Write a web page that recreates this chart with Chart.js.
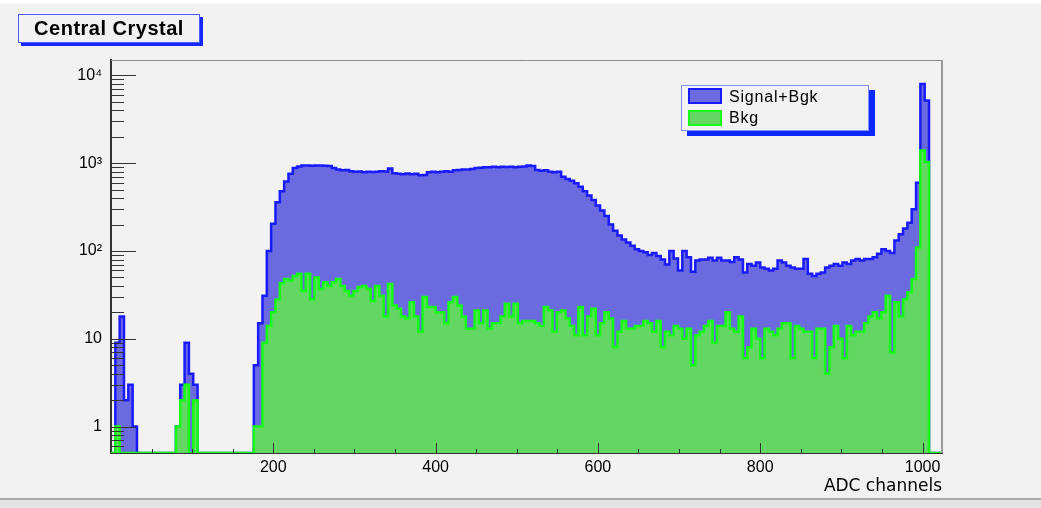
<!DOCTYPE html>
<html>
<head>
<meta charset="utf-8">
<script src="https://cdn.jsdelivr.net/npm/chart.js@4.4.1/dist/chart.umd.min.js"></script>
<style>
  body { margin: 0; background: #f2f2f2; }
  #wrap { position: relative; width: 1041px; height: 508px; }
  #title {
    position: absolute; left: 18px; top: 14px; width: 180px; height: 27px;
    border: 1px solid #4d5cff; box-shadow: 3px 3px 0 #1428ff;
    font: bold 20px "Liberation Sans", Arial, sans-serif; letter-spacing: 0.5px;
    line-height: 27px; text-align: center; color: #000;
  }
  #legend {
    position: absolute; left: 681px; top: 85px; width: 186px; height: 44px;
    border: 1px solid #8090ff; box-shadow: 6px 5px 0 #0a28ff; background: #f2f2f2;
    font: 16px "Liberation Sans", Arial, sans-serif; letter-spacing: 0.8px; color: #000;
  }
  .sw { position: absolute; left: 6px; width: 30px; height: 12px; }
  .lb { position: absolute; left: 47px; height: 18px; line-height: 18px; }
</style>
</head>
<body>
<div id="wrap">
  <canvas id="crystal" width="1041" height="508"></canvas>
  <div id="title">Central Crystal</div>
  <div id="legend">
    <div class="sw" style="top:2px; background:#6b6bdf; border:2px solid #1a1aff;"></div>
    <div class="lb" style="top:2px;">Signal+Bgk</div>
    <div class="sw" style="top:24px; background:#63d663; border:2px solid #19ff19;"></div>
    <div class="lb" style="top:23px;">Bkg</div>
  </div>
</div>
<script>
// 192 bins over 0..1024 ADC channels
const binWidth = 1024 / 192;
const yMin = 0.5;
const yMax = 15000;
const xTickValues = [200, 400, 600, 800, 1000];

const sigBgk = [
  0, 9, 18, 2, 3, 1,
  0, 0, 0, 0, 0, 0, 0, 0, 0,
  1, 3, 9, 4, 3,
  0, 0, 0, 0, 0, 0, 0, 0, 0, 0, 0, 0, 0,
  5, 15, 31, 100, 205, 360, 480, 620, 760, 880, 920, 940, 945, 935, 940,
  940, 935, 930, 880, 850, 830, 835, 810, 800, 805, 790, 800, 795, 800, 810, 805,
  870, 770, 760, 750, 765, 750, 760, 730, 735, 790, 800, 790, 800, 810, 800, 830,
  840, 850, 850, 860, 880, 890, 900, 900, 910, 900, 910, 905, 910, 900, 910, 920,
  940, 930, 840, 820, 830, 800, 790, 800, 700, 660, 630, 590, 540, 480, 430, 380,
  330, 290, 250, 200, 170, 150, 135, 125, 115, 105, 100, 97, 90, 95, 88, 80,
  70, 100, 82, 60, 100, 85, 58, 78, 80, 80, 84, 78, 84, 78, 78, 75,
  85, 80, 57, 71, 68, 74, 65, 63, 60, 63, 78, 74, 68, 65, 63, 63,
  81, 55, 52, 55, 57, 65, 68, 71, 68, 74, 71, 78, 81, 78, 81, 81,
  85, 93, 105, 100, 95, 132, 155, 180, 210, 300, 600, 8000, 5200, 0, 0, 0
];

const bkg = [
  0, 1, 0, 0, 0, 0,
  0, 0, 0, 0, 0, 0, 0, 0, 0,
  1, 2, 3, 0, 2,
  0, 0, 0, 0, 0, 0, 0, 0, 0, 0, 0, 0, 0,
  1, 1, 9, 14, 20, 28, 43, 48, 46, 52, 55, 35, 55, 28, 50,
  37, 44, 40, 44, 48, 40, 35, 31, 35, 39, 40, 37, 27, 40, 31, 18,
  42, 24, 22, 18, 17, 26, 18, 12, 30, 23, 23, 20, 20, 15, 26, 30,
  24, 18, 13, 13, 21, 15, 21, 13, 15, 15, 18, 25, 18, 25, 15, 16,
  16, 16, 15, 14, 23, 21, 12, 20, 21, 17, 14, 11, 23, 11, 18, 22,
  11, 15, 20, 17, 8, 12, 16, 13, 13, 14, 14, 16, 15, 12, 16, 8,
  12, 11, 14, 13, 10, 13, 5, 11, 12, 14, 16, 9, 14, 14, 20, 13,
  12, 18, 6, 8, 13, 10, 6, 13, 12, 11, 13, 15, 15, 6, 14, 13,
  12, 12, 6, 13, 13, 4, 8, 14, 10, 6, 14, 11, 12, 12, 15, 18,
  20, 17, 20, 31, 7, 26, 18, 28, 34, 48, 110, 1400, 1030, 0, 0, 0
];

const decadeLabels = { 0: "1", 1: "10", 2: "10\u00B2", 3: "10\u00B3", 4: "10\u2074" };

// step points at the low edge of each bin, plus the last upper edge.
// empty bins sit on the axis floor (log scale drops zeros)
const toSteps = (counts) => {
  const pts = counts.map((c, i) => ({ x: i * binWidth, y: c > 0 ? c : yMin }));
  pts.push({ x: counts.length * binWidth, y: yMin });
  return pts;
};

const isDecade = (v) => {
  const l = Math.log10(v);
  return Math.abs(l - Math.round(l)) < 1e-9;
};

const rootStyle = {
  id: "rootStyle",
  beforeDraw(chart) {
    const { ctx, width, height } = chart;
    ctx.save();
    ctx.fillStyle = "#f2f2f2";
    ctx.fillRect(0, 0, width, height);
    ctx.fillStyle = "#ffffff";
    ctx.fillRect(0, 0, width, 3);
    ctx.fillStyle = "#a8a8a8";
    ctx.fillRect(0, 498, width, 2);
    ctx.fillStyle = "#e4e4e4";
    ctx.fillRect(0, 500, width, 8);
    ctx.restore();
  },
  afterDatasetsDraw(chart) {
    const { ctx, chartArea: a, scales } = chart;
    const x = scales.x, y = scales.y;
    ctx.save();
    ctx.strokeStyle = "#333";
    ctx.lineWidth = 1;
    ctx.beginPath();
    y.ticks.forEach((t) => {
      const v = t.value;
      const m = v / Math.pow(10, Math.floor(Math.log10(v) + 1e-9));
      if (Math.abs(m - Math.round(m)) > 1e-6) return;
      const py = Math.round(y.getPixelForValue(v)) + 0.5;
      if (py < a.top || py > a.bottom - 2) return;
      const len = isDecade(v) ? 25 : 13;
      ctx.moveTo(a.left, py);
      ctx.lineTo(a.left + len, py);
    });
    for (let v = 50; v <= 1000; v += 50) {
      const px = Math.round(x.getPixelForValue(v)) + 0.5;
      const len = v % 200 === 0 ? 10 : 4;
      ctx.moveTo(px, a.bottom);
      ctx.lineTo(px, a.bottom - len);
    }
    ctx.stroke();
    // frame top and right
    ctx.strokeStyle = "#8a8a8a";
    ctx.beginPath();
    ctx.moveTo(a.left, a.top + 0.5);
    ctx.lineTo(a.right, a.top + 0.5);
    ctx.stroke();
    ctx.lineWidth = 2;
    ctx.strokeStyle = "#9a9a9a";
    ctx.beginPath();
    ctx.moveTo(a.right, a.top);
    ctx.lineTo(a.right, a.bottom);
    ctx.stroke();
    ctx.restore();
  },
};

new Chart(document.getElementById("crystal"), {
  type: "line",
  data: {
    datasets: [
      {
        label: "Signal+Bgk",
        data: toSteps(sigBgk),
        stepped: true,
        borderColor: "#1a1aff",
        backgroundColor: "#6b6bdf",
        borderWidth: 2.5,
        fill: "start",
        pointRadius: 0,
        order: 2,
      },
      {
        label: "Bkg",
        data: toSteps(bkg),
        stepped: true,
        borderColor: "#14ff14",
        backgroundColor: "#63d663",
        borderWidth: 2.5,
        fill: "start",
        pointRadius: 0,
        order: 1,
      },
    ],
  },
  options: {
    responsive: false,
    animation: false,
    events: [],
    layout: { padding: { left: 0, right: 99, top: 60, bottom: 0 } },
    plugins: {
      legend: { display: false },
      tooltip: { enabled: false },
    },
    scales: {
      x: {
        type: "linear",
        min: 0,
        max: 1024,
        grid: { display: false, drawTicks: false },
        border: { color: "#333", width: 2 },
        afterBuildTicks: (scale) => {
          scale.ticks = xTickValues.map((v) => ({ value: v }));
        },
        ticks: {
          autoSkip: false,
          padding: 5,
          color: "#000",
          font: { family: "Liberation Sans, Arial, sans-serif", size: 16 },
          callback: (value) => String(value),
        },
        title: {
          display: true,
          text: "ADC channels",
          align: "end",
          color: "#000",
          font: { family: "DejaVu Sans, sans-serif", size: 17 },
          padding: { top: 0, bottom: 11 },
        },
        afterFit: (scale) => {
          scale.height = 55;
        },
      },
      y: {
        type: "logarithmic",
        min: yMin,
        max: yMax,
        grid: { display: false, drawTicks: false },
        border: { color: "#333", width: 2 },
        ticks: {
          autoSkip: false,
          padding: 9,
          color: "#000",
          font: { family: "Liberation Sans, Arial, sans-serif", size: 16 },
          callback: (value) => {
            if (!isDecade(value)) return "";
            const label = decadeLabels[Math.round(Math.log10(value))];
            return label === undefined ? "" : label;
          },
        },
        afterFit: (scale) => {
          scale.width = 111;
        },
      },
    },
  },
  plugins: [rootStyle],
});
</script>
</body>
</html>
